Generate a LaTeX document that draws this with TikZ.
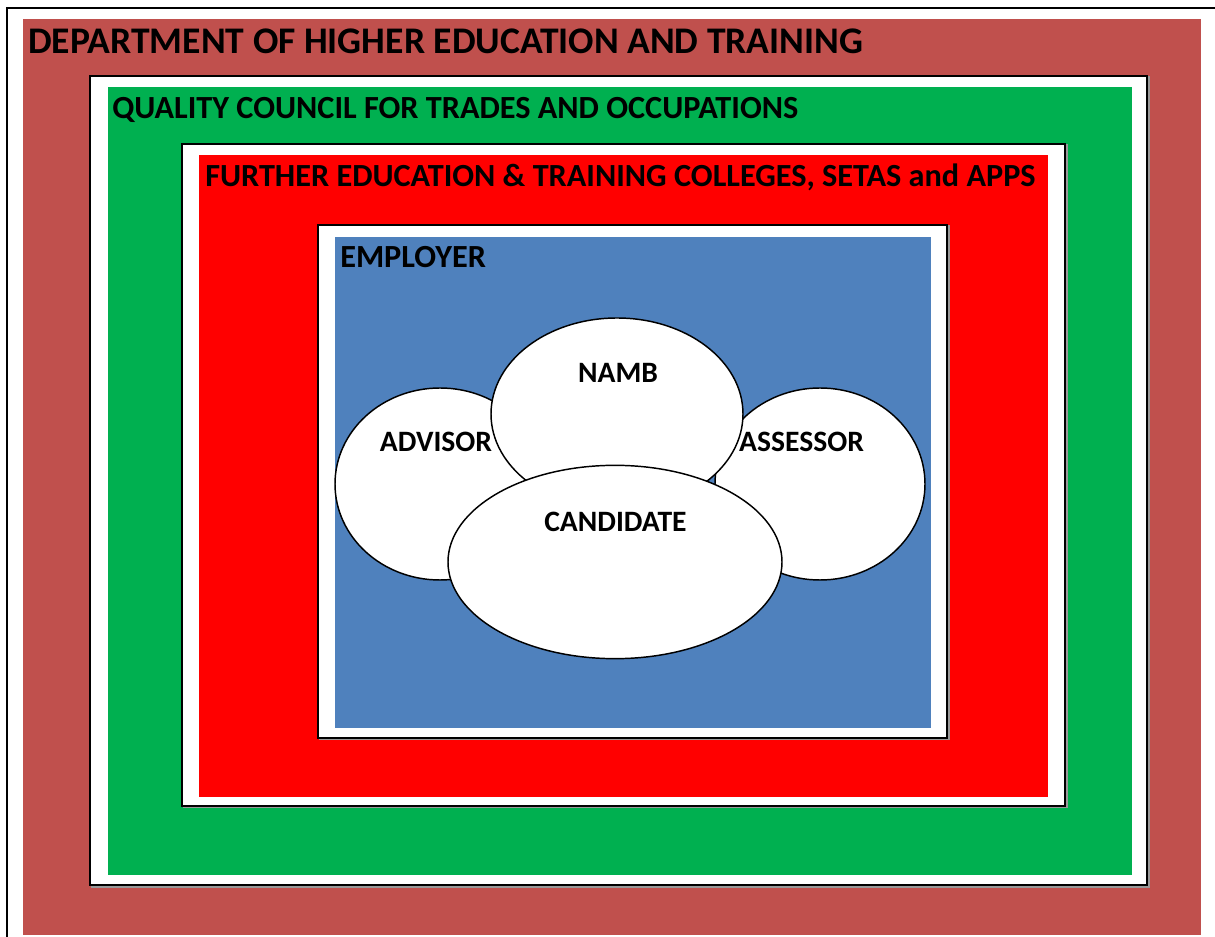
\documentclass[tikz,border=0pt]{standalone}
\usepackage{fontspec}
\setmainfont{Carlito}
\usetikzlibrary{shapes.geometric}

\definecolor{dhetred}{HTML}{C0504D}
\definecolor{qctogreen}{HTML}{00B050}
\definecolor{fetred}{HTML}{FF0000}
\definecolor{empblue}{HTML}{4F81BD}

\begin{document}
\begin{tikzpicture}[x=0.75pt, y=-0.75pt,
  frame/.style={draw=black, line width=1.5pt, fill=white},
  frameshadow/.style={draw=black!40, line width=1.5pt},
  title/.style={anchor=base west, inner sep=0pt, font=\bfseries\fontsize{24.2}{28}\selectfont},
  bubble/.style={ellipse, draw=black, fill=white, line width=1.1pt, inner sep=0pt},
  tag/.style={anchor=base, inner sep=0pt, font=\bfseries\fontsize{22.2}{26}\selectfont}]

  \clip (0,0) rectangle (1215,937);
  \fill[white] (0,0) rectangle (1215,937);

  % Outer frame, runs off the page
  \draw[frame] (7,8) rectangle (1240,960);

  % Department
  \fill[dhetred] (23,19) rectangle (1201,935);
  \node[title, font=\bfseries\fontsize{28.2}{32}\selectfont] (dhet) at (28,54) {DEPARTMENT OF HIGHER EDUCATION AND TRAINING};

  % Quality council
  \draw[frameshadow] (91.5,77.5) rectangle (1148.5,886.5);
  \draw[frame] (90,76) rectangle (1147,885);
  \fill[qctogreen] (108,87) rectangle (1132,875);
  \node[title] (qcto) at (112,119) {QUALITY COUNCIL FOR TRADES AND OCCUPATIONS};

  % Colleges, SETAs and APPs
  \draw[frameshadow] (183.5,145.5) rectangle (1066.5,807.5);
  \draw[frame] (182,144) rectangle (1065,806);
  \fill[fetred] (199,155) rectangle (1048,797);
  \node[title] (fet) at (205,187) {FURTHER EDUCATION \& TRAINING COLLEGES, SETAS and APPS};

  % Employer
  \draw[frameshadow] (319.5,226.5) rectangle (948.5,739.5);
  \draw[frame] (318,225) rectangle (947,738);
  \fill[empblue] (335,237) rectangle (931,728);
  \node[title] (employer) at (340,268) {EMPLOYER};

  % Ellipses
  \node[bubble, minimum width=157.5pt, minimum height=144pt] (advisor) at (440,484) {};
  \node[bubble, minimum width=157.5pt, minimum height=144pt] (assessor) at (820,484) {};
  \node[bubble, minimum width=189pt, minimum height=144pt] (namb) at (617,414) {};
  \node[bubble, minimum width=250.5pt, minimum height=145pt] (candidate) at (615,562) {};

  % Labels
  \node[tag] (advisorlbl) at (436,452) {ADVISOR};
  \node[tag] (assessorlbl) at (801.5,452) {ASSESSOR};
  \node[tag] (namblbl) at (618,383) {NAMB};
  \node[tag] (candidatelbl) at (615.5,532) {CANDIDATE};

\end{tikzpicture}
\end{document}
